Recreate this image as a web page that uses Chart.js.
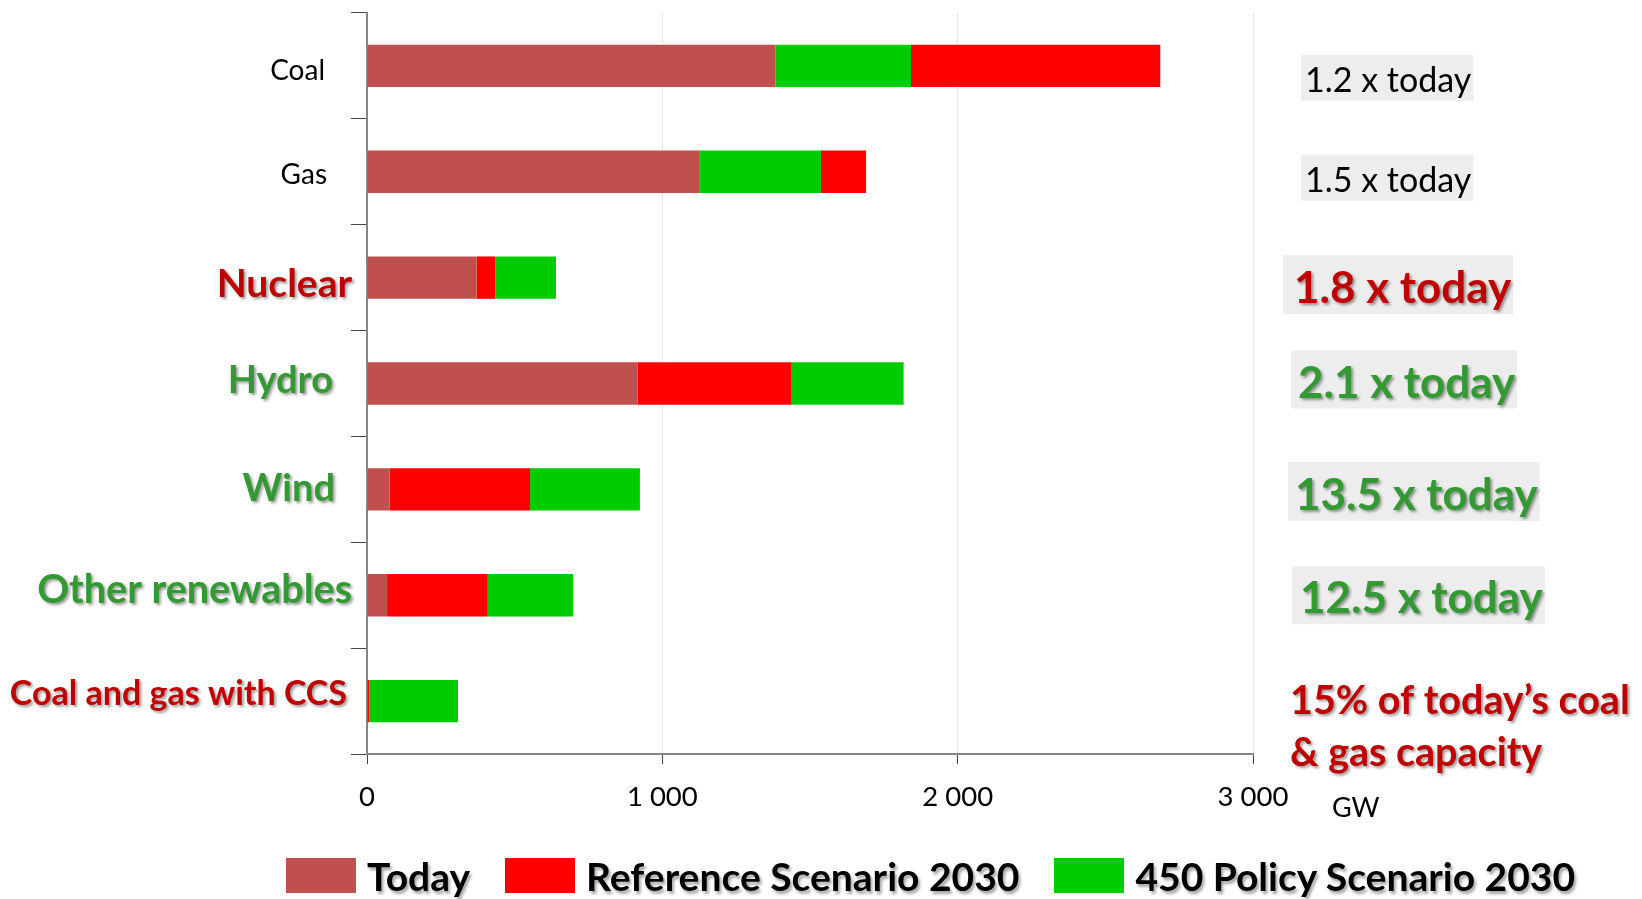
<!DOCTYPE html>
<html>
<head>
<meta charset="utf-8">
<script src="https://cdn.jsdelivr.net/npm/chart.js@4.4.1/dist/chart.umd.min.js"></script>
<style>
  html, body { margin: 0; padding: 0; background: #fff; }
  #wrap { position: relative; width: 1642px; height: 899px; }
  #legend {
    position: absolute; left: 286px; top: 858px; height: 35px;
    display: flex; align-items: center;
    font-family: Lato, sans-serif; font-weight: bold; font-size: 39px; color: #000;
    text-shadow: 2px 3px 3px rgba(0,0,0,0.35);
  }
  #legend .item { display: flex; align-items: center; margin-right: 35px; white-space: nowrap; }
  #legend .sw { width: 70px; height: 35px; margin-right: 11px; }
</style>
</head>
<body>
<div id="wrap">
  <canvas id="chart" width="1642" height="899"></canvas>
  <div id="legend"></div>
</div>
<script>
// installed capacity, GW
const categories = ['Coal', 'Gas', 'Nuclear', 'Hydro', 'Wind', 'Other renewables', 'Coal and gas with CCS'];
const today = [1383, 1127, 371, 917, 76, 68, 0];
const reference2030 = [2686, 1690, 434, 1438, 552, 409, 8];
const policy450 = [1842, 1537, 640, 1817, 924, 698, 308];
const xTicks = [0, 1000, 2000, 3000];
const notes = ['1.2 x today', '1.5 x today', '1.8 x today', '2.1 x today', '13.5 x today', '12.5 x today',
  '15% of today\u2019s coal\n& gas capacity'];

const seriesNames = ['Today', 'Reference Scenario 2030', '450 Policy Scenario 2030'];
const seriesColors = ['#C0504D', '#FF0000', '#00CC00'];

const RED = '#C00000', GREEN = '#339933';
// left labels: font, colour, gap to the axis, vertical nudge, shadow
const labelStyles = [
  { font: '28px Lato', color: '#000', gap: 42, dy: 5, shadow: false },
  { font: '28px Lato', color: '#000', gap: 40, dy: 3, shadow: false },
  { font: 'bold 39px Lato', color: RED, gap: 15, dy: 7, shadow: true },
  { font: 'bold 38px Lato', color: GREEN, gap: 34, dy: -3, shadow: true },
  { font: 'bold 38px Lato', color: GREEN, gap: 32, dy: -1, shadow: true },
  { font: 'bold 39.5px Lato', color: GREEN, gap: 15, dy: -5, shadow: true },
  { font: 'bold 34px Lato', color: RED, gap: 20, dy: -7, shadow: true }
];
// right notes: offset from plot right edge, nudge, text drop inside box, box
const noteStyles = [
  { font: '34px Lato', color: '#000', dx: 48, dy: 12, tdy: 3, pad: 4, h: 46, box: true, shadow: false },
  { font: '34px Lato', color: '#000', dx: 48, dy: 6, tdy: 3, pad: 4, h: 46, box: true, shadow: false },
  { font: 'bold 44px Lato', color: RED, dx: 30, dy: 7, tdy: 4, pad: 11, h: 59, box: true, shadow: true },
  { font: 'bold 44px Lato', color: GREEN, dx: 38, dy: -4, tdy: 4, pad: 7, h: 58, box: true, shadow: true },
  { font: 'bold 44px Lato', color: GREEN, dx: 35, dy: 2, tdy: 4, pad: 7, h: 59, box: true, shadow: true },
  { font: 'bold 44px Lato', color: GREEN, dx: 39, dy: 0, tdy: 4, pad: 8, h: 58, box: true, shadow: true },
  { font: 'bold 39.5px Lato', color: RED, dx: 37, dy: 26, tdy: 0, pad: 0, h: 52, box: false, shadow: true }
];

// longer bars sit behind shorter ones, so each series only shows the part past the shorter ones
function visibleRange(own, other, base) {
  const start = own > other ? Math.max(base, other) : base;
  return [start, Math.max(own, start)];
}

function setShadow(c, on) {
  c.shadowColor = on ? 'rgba(0,0,0,0.4)' : 'transparent';
  c.shadowOffsetX = on ? 2 : 0;
  c.shadowOffsetY = on ? 2 : 0;
  c.shadowBlur = on ? 3 : 0;
}

const sideText = {
  id: 'sideText',
  afterDraw(chart) {
    const c = chart.ctx, y = chart.scales.y, area = chart.chartArea;
    c.save();
    c.textBaseline = 'middle';
    categories.forEach((name, i) => {
      const st = labelStyles[i];
      setShadow(c, st.shadow);
      c.font = st.font;
      c.fillStyle = st.color;
      c.textAlign = 'right';
      c.fillText(name, area.left - st.gap, y.getPixelForValue(i) + st.dy);
    });
    notes.forEach((txt, i) => {
      const st = noteStyles[i];
      const lines = txt.split('\n');
      const cy = y.getPixelForValue(i) + st.dy;
      const x0 = area.right + st.dx;
      c.font = st.font;
      c.textAlign = 'left';
      if (st.box) {
        setShadow(c, false);
        const w = c.measureText(txt).width;
        c.fillStyle = '#EDEDED';
        c.fillRect(x0, cy - st.h / 2, w + st.pad + 2, st.h);
      }
      setShadow(c, st.shadow);
      c.fillStyle = st.color;
      lines.forEach((ln, k) => {
        c.fillText(ln, x0 + st.pad, cy + st.tdy + (k - (lines.length - 1) / 2) * st.h);
      });
    });
    setShadow(c, false);
    c.font = '27px Lato';
    c.fillStyle = '#000';
    c.textAlign = 'left';
    c.fillText('GW', area.right + 79, area.bottom + 54);
    c.restore();
  }
};

const rangesFor = [
  categories.map((_, i) => [0, today[i]]),
  categories.map((_, i) => visibleRange(reference2030[i], policy450[i], today[i])),
  categories.map((_, i) => visibleRange(policy450[i], reference2030[i], today[i]))
];

new Chart(document.getElementById('chart'), {
  type: 'bar',
  data: {
    labels: categories,
    datasets: seriesNames.map((name, k) => ({
      label: name,
      data: rangesFor[k],
      backgroundColor: seriesColors[k]
    }))
  },
  options: {
    indexAxis: 'y',
    responsive: false,
    animation: false,
    layout: { padding: { top: 13, right: 389, left: 0, bottom: 0 } },
    datasets: { bar: { grouped: false, barPercentage: 0.4, categoryPercentage: 1 } },
    plugins: { legend: { display: false }, tooltip: { enabled: false } },
    scales: {
      x: {
        min: xTicks[0],
        max: xTicks[xTicks.length - 1],
        afterBuildTicks: s => { s.ticks = xTicks.map(v => ({ value: v })); },
        ticks: {
          font: { family: 'Lato', size: 27.5 },
          color: '#000',
          padding: 17,
          maxRotation: 0,
          callback: v => String(v).replace(/\B(?=(\d{3})+(?!\d))/g, ' ')
        },
        grid: { color: '#E8E8E0', tickColor: '#444', tickLength: 10 },
        border: { color: '#868686', width: 2 },
        afterFit: s => { s.height = 145; }
      },
      y: {
        ticks: { display: false },
        grid: { drawOnChartArea: false, tickColor: '#444', tickLength: 16, offset: true },
        border: { color: '#868686', width: 2 },
        afterFit: s => { s.width = 367; }
      }
    }
  },
  plugins: [sideText]
});

const legend = document.getElementById('legend');
seriesNames.forEach((name, k) => {
  const item = document.createElement('div');
  item.className = 'item';
  const sw = document.createElement('div');
  sw.className = 'sw';
  sw.style.background = seriesColors[k];
  const label = document.createElement('span');
  label.textContent = name;
  item.appendChild(sw);
  item.appendChild(label);
  legend.appendChild(item);
});
</script>
</body>
</html>
